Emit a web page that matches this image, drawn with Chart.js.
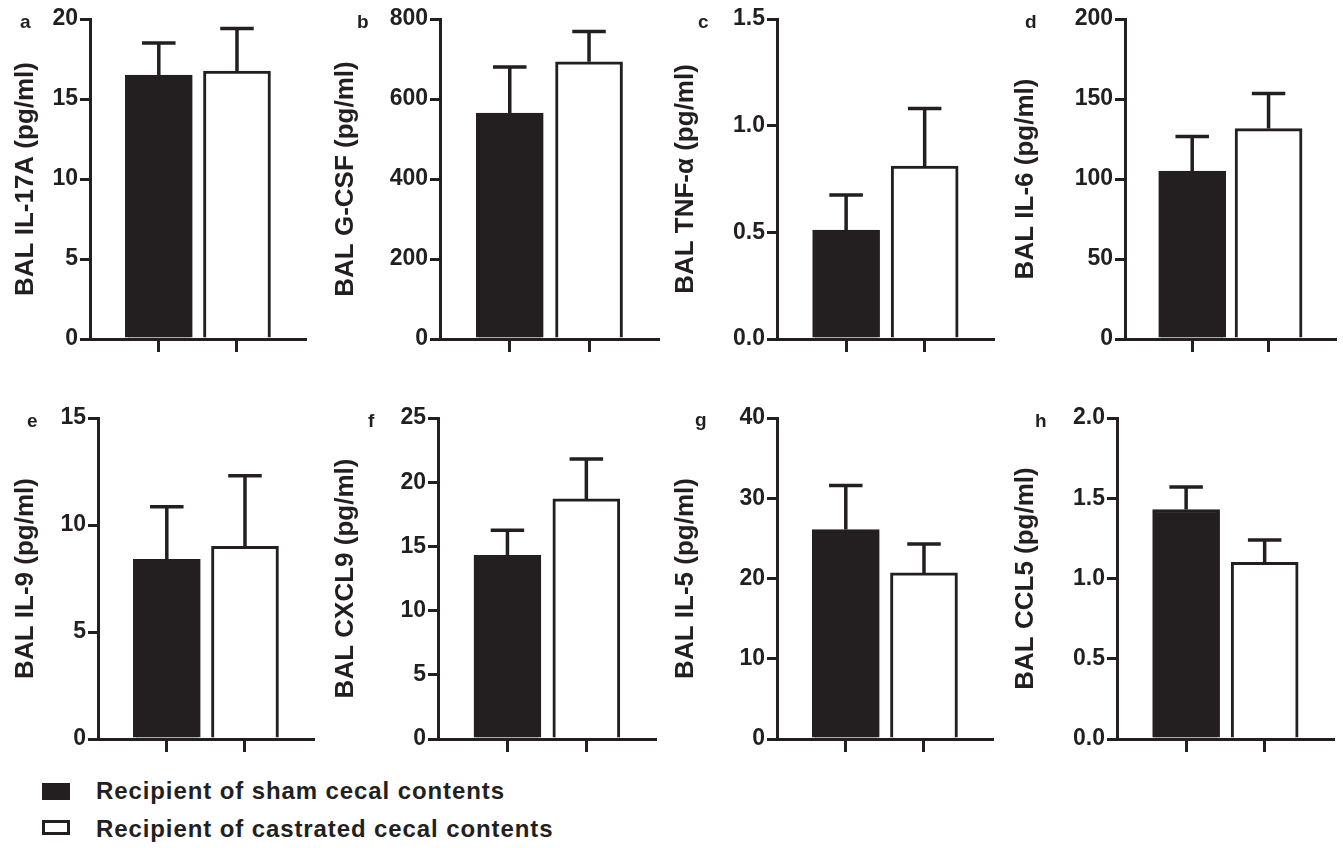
<!DOCTYPE html>
<html>
<head>
<meta charset="utf-8">
<title>BAL cytokines</title>
<script src="https://cdn.jsdelivr.net/npm/chart.js@4.4.1/dist/chart.umd.min.js"></script>
<style>
  body { margin: 0; background: #fff; }
  #wrap { position: relative; width: 1343px; height: 848px; overflow: hidden;
          font-family: "Liberation Sans", Arial, sans-serif; font-weight: bold; color: #231f20; }
  canvas { position: absolute; }
  .letter { position: absolute; font-size: 19px; line-height: 19px; }
  .key { position: absolute; left: 42px; width: 28px; box-sizing: border-box; }
  .keytext { position: absolute; left: 96px; font-size: 24px; line-height: 24px; letter-spacing: 0.9px; white-space: nowrap; }
</style>
</head>
<body>
<div id="wrap"></div>
<script>
// data
const groups = ["Recipient of sham cecal contents", "Recipient of castrated cecal contents"];
const letters = ["a", "b", "c", "d", "e", "f", "g", "h"];
const titles = ["BAL IL-17A (pg/ml)", "BAL G-CSF (pg/ml)", "BAL TNF-\u03b1 (pg/ml)", "BAL IL-6 (pg/ml)",
                "BAL IL-9 (pg/ml)", "BAL CXCL9 (pg/ml)", "BAL IL-5 (pg/ml)", "BAL CCL5 (pg/ml)"];
const shamMean = [16.5, 565, 0.51, 105, 8.4, 14.3, 26.1, 1.43];
const shamErr = [2.0, 115, 0.165, 21.5, 2.45, 1.95, 5.5, 0.14];
const castMean = [16.75, 693, 0.81, 131.5, 9.0, 18.7, 20.7, 1.10];
const castErr = [2.65, 76, 0.27, 22, 3.3, 3.1, 3.6, 0.14];
const yMax = [20, 800, 1.5, 200, 15, 25, 40, 2];
const yStep = [5, 200, 0.5, 50, 5, 5, 10, 0.5];
const yDecimals = [0, 0, 1, 0, 0, 0, 0, 1];

// layout (page pixels)
const canvasLeft = [0, 320, 660, 1000, 0, 320, 660, 1000];
const axisX = [90, 440, 777, 1125, 98, 438, 777, 1117];
const axisEnd = [305, 658, 993, 1335, 313, 655, 992, 1333];
const rowTop = [0, 0, 0, 0, 400, 400, 400, 400];
const plotTop = [19, 19, 19, 19, 418, 418, 418, 418];
const letterPos = [[20, 12], [357, 12], [698, 12], [1025, 12], [27, 411], [368, 411], [695, 410], [1035, 411]];

const ink = "#231f20";
const fontFamily = '"Liberation Sans", Arial, sans-serif';
const wrap = document.getElementById("wrap");

//draws the upper SEM whisker on top of every bar
const errorBars = {
  id: "errorBars",
  afterDatasetsDraw(chart) {
    const ctx = chart.ctx;
    const y = chart.scales.y;
    ctx.save();
    ctx.strokeStyle = ink;
    ctx.lineWidth = 3.5;
    chart.data.datasets.forEach((ds, i) => {
      chart.getDatasetMeta(i).data.forEach((bar, j) => {
        const top = y.getPixelForValue(ds.data[j].y + ds.errors[j]);
        const half = bar.width / 4;
        ctx.beginPath();
        ctx.moveTo(bar.x, bar.y);
        ctx.lineTo(bar.x, top);
        ctx.moveTo(bar.x - half, top);
        ctx.lineTo(bar.x + half, top);
        ctx.stroke();
      });
    });
    ctx.restore();
  }
};

function makePanel(i) {
  const canvas = document.createElement("canvas");
  const height = 370;
  const width = axisEnd[i] - canvasLeft[i] + 4;
  canvas.width = width;
  canvas.height = height;
  canvas.style.left = canvasLeft[i] + "px";
  canvas.style.top = rowTop[i] + "px";
  wrap.appendChild(canvas);

  const yWidth = axisX[i] - canvasLeft[i];

  new Chart(canvas, {
    type: "bar",
    data: {
      datasets: [
        {
          label: groups[0],
          data: [{ x: 1, y: shamMean[i] }],
          errors: [shamErr[i]],
          backgroundColor: ink,
          borderColor: ink,
          borderWidth: 3,
          grouped: false,
          barThickness: 67
        },
        {
          label: groups[1],
          data: [{ x: 2, y: castMean[i] }],
          errors: [castErr[i]],
          backgroundColor: "#ffffff",
          borderColor: ink,
          borderWidth: 3,
          grouped: false,
          barThickness: 67
        }
      ]
    },
    options: {
      responsive: false,
      animation: false,
      devicePixelRatio: 1,
      layout: { padding: { left: 0, right: 4, top: plotTop[i] - rowTop[i], bottom: 15 } },
      plugins: { legend: { display: false }, tooltip: { enabled: false } },
      scales: {
        x: {
          type: "linear",
          offset: false,
          min: 0.12,
          max: 2.87,
          afterBuildTicks: (scale) => { scale.ticks = [{ value: 1 }, { value: 2 }]; },
          afterFit: (scale) => { scale.height = 16; },
          ticks: { display: false },
          grid: { offset: false, drawOnChartArea: false, drawTicks: true, tickLength: 13, color: ink, lineWidth: 3 },
          border: { display: true, color: ink, width: 3 }
        },
        y: {
          min: 0,
          max: yMax[i],
          afterFit: (scale) => { scale.width = yWidth; },
          ticks: {
            stepSize: yStep[i],
            color: ink,
            padding: 2,
            font: { family: fontFamily, size: 23, weight: "bold" },
            callback: (v) => Number(v).toFixed(yDecimals[i])
          },
          grid: { drawOnChartArea: false, drawTicks: true, tickLength: 10, color: ink, lineWidth: 3 },
          border: { display: true, color: ink, width: 3 },
          title: {
            display: true,
            text: titles[i],
            color: ink,
            padding: { top: 10, bottom: 0 },
            font: { family: fontFamily, size: 26, weight: "bold" }
          }
        }
      }
    },
    plugins: [errorBars]
  });

  const letter = document.createElement("div");
  letter.className = "letter";
  letter.textContent = letters[i];
  letter.style.left = letterPos[i][0] + "px";
  letter.style.top = letterPos[i][1] + "px";
  wrap.appendChild(letter);
}

for (let i = 0; i < titles.length; i++) {
  makePanel(i);
}

//legend under the panels
function addKey(top, boxHeight, filled, text, textTop) {
  const box = document.createElement("div");
  box.className = "key";
  box.style.top = top + "px";
  box.style.height = boxHeight + "px";
  box.style.background = filled ? ink : "#ffffff";
  box.style.border = "3px solid " + ink;
  wrap.appendChild(box);

  const label = document.createElement("div");
  label.className = "keytext";
  label.style.top = textTop + "px";
  label.textContent = text;
  wrap.appendChild(label);
}

addKey(783, 17, true, groups[0], 779);
addKey(820, 15, false, groups[1], 817);
</script>
</body>
</html>
